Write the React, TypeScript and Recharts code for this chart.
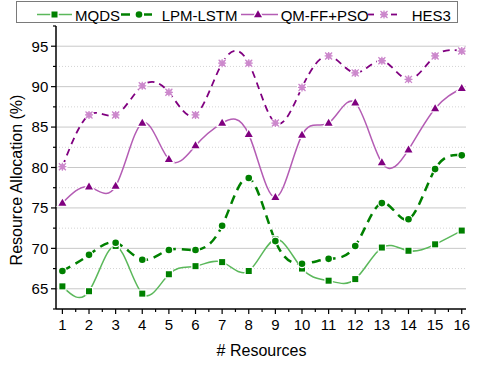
import React from 'react';
import { LineChart, Line, XAxis, YAxis, CartesianGrid, Label } from 'recharts';

const resources = [1, 2, 3, 4, 5, 6, 7, 8, 9, 10, 11, 12, 13, 14, 15, 16];
const mqds = [65.3, 64.7, 70.3, 64.4, 66.8, 67.8, 68.3, 67.2, 71.1, 67.5, 66.0, 66.2, 70.1, 69.7, 70.5, 72.2];
const lpmLstm = [67.2, 69.2, 70.7, 68.6, 69.8, 69.8, 72.8, 78.7, 70.9, 68.1, 68.7, 70.3, 75.6, 73.6, 79.8, 81.5];
const qmFfPso = [75.6, 77.6, 77.7, 85.5, 81.0, 82.7, 85.5, 84.1, 76.3, 84.0, 85.5, 88.0, 80.6, 82.2, 87.3, 89.8];
const hes3 = [80.1, 86.5, 86.5, 90.1, 89.3, 86.5, 92.9, 92.9, 85.5, 89.9, 93.8, 91.7, 93.2, 90.9, 93.8, 94.4];

const yMajor = [65, 70, 75, 80, 85, 90, 95];
const yMinor = [62.5, 67.5, 72.5, 77.5, 82.5, 87.5, 92.5, 97.5];
const seriesNames = ['MQDS', 'LPM-LSTM', 'QM-FF+PSO', 'HES3'];

const data = resources.map((r, i) => ({
  r,
  mqds: mqds[i],
  lpm: lpmLstm[i],
  qm: qmFfPso[i],
  hes: hes3[i],
}));

const xTicks = resources.flatMap((r) => (r < 16 ? [r, r + 0.5] : [r]));
const yTicks = [...yMajor, ...yMinor].sort((a, b) => a - b);

const FONT = '"Liberation Sans", Arial, sans-serif';
const GREEN = '#008000';
const LIGHT_GREEN = '#5BB85B';
const PURPLE = '#800080';
const LIGHT_PURPLE = '#B45CB4';
const PINK = '#CC88CC';

function Square({ cx, cy }: { cx: number; cy: number }) {
  return <rect x={cx - 3} y={cy - 3} width={6} height={6} fill={GREEN} stroke="#fff" strokeWidth={2.5} paintOrder="stroke" />;
}

function Dot({ cx, cy }: { cx: number; cy: number }) {
  return <circle cx={cx} cy={cy} r={3.3} fill={GREEN} stroke="#fff" strokeWidth={2.5} paintOrder="stroke" />;
}

function Tri({ cx, cy }: { cx: number; cy: number }) {
  return (
    <polygon
      points={`${cx},${cy - 4.3} ${cx + 4},${cy + 2.7} ${cx - 4},${cy + 2.7}`}
      fill={PURPLE}
      stroke="#fff"
      strokeWidth={2.5}
      paintOrder="stroke"
    />
  );
}

function Star({ cx, cy }: { cx: number; cy: number }) {
  const s = 3.5;
  return (
    <g>
      <circle cx={cx} cy={cy} r={5.2} fill="#fff" />
      <path
        d={`M${cx - s},${cy - s}L${cx + s},${cy + s}M${cx + s},${cy - s}L${cx - s},${cy + s}M${cx},${cy - 4}L${cx},${cy + 4}M${cx - 4},${cy}L${cx + 4},${cy}`}
        stroke={PINK}
        strokeWidth={1.3}
        fill="none"
      />
      <rect x={cx - 2.2} y={cy - 2.2} width={4.4} height={4.4} fill="none" stroke={PINK} strokeWidth={0.8} />
    </g>
  );
}

const markers = [Square, Dot, Tri, Star];

function marker(kind: number) {
  const M = markers[kind];
  return (p: any) => {
    if (p.cx == null || p.cy == null) return <g key={`m${kind}-${p.index}`} />;
    return <M key={`m${kind}-${p.index}`} cx={p.cx} cy={p.cy} />;
  };
}

function XTick({ x, y, payload }: any) {
  const major = Number.isInteger(payload.value);
  return (
    <g>
      <line x1={x} x2={x} y1={y} y2={y + (major ? 5 : 3)} stroke="#000" strokeWidth={1.2} />
      {major && (
        <text x={x} y={y + 21.4} textAnchor="middle" fontSize={15} fontFamily={FONT} fill="#000">
          {payload.value}
        </text>
      )}
    </g>
  );
}

function YTick({ x, y, payload }: any) {
  const major = payload.value % 5 === 0;
  return (
    <g>
      <line x1={x - (major ? 5 : 3)} x2={x} y1={y} y2={y} stroke="#000" strokeWidth={1.2} />
      {major && (
        <text x={x - 7.7} y={y} dy="0.36em" textAnchor="end" fontSize={15} fontFamily={FONT} fill="#000">
          {payload.value}
        </text>
      )}
    </g>
  );
}

function ChartLegend() {
  const ty = 20.7;
  const ly = 14.5;
  return (
    <svg width={480} height={26} style={{ position: 'absolute', left: 0, top: 0 }}>
      <rect x={16.5} y={1.5} width={441} height={21} fill="#fff" stroke="#7a7a7a" strokeWidth={1} />
      <line x1={37} x2={72} y1={ly} y2={ly} stroke={LIGHT_GREEN} strokeWidth={1.5} />
      <Square cx={54.5} cy={ly} />
      <text x={75} y={ty} fontSize={15} fontFamily={FONT}>{seriesNames[0]}</text>
      <line x1={121} x2={130} y1={ly} y2={ly} stroke={GREEN} strokeWidth={2.5} />
      <line x1={144} x2={152} y1={ly} y2={ly} stroke={GREEN} strokeWidth={2.5} />
      <Dot cx={139} cy={ly} />
      <text x={161.7} y={ty} fontSize={15} fontFamily={FONT}>{seriesNames[1]}</text>
      <line x1={241} x2={278} y1={ly} y2={ly} stroke={LIGHT_PURPLE} strokeWidth={1.5} />
      <Tri cx={258} cy={ly} />
      <text x={280.7} y={ty} fontSize={15} fontFamily={FONT}>{seriesNames[2]}</text>
      <line x1={368} x2={374} y1={ly} y2={ly} stroke={PURPLE} strokeWidth={1.8} />
      <line x1={391} x2={397} y1={ly} y2={ly} stroke={PURPLE} strokeWidth={1.8} />
      <Star cx={384} cy={ly} />
      <text x={411.7} y={ty} fontSize={15} fontFamily={FONT}>{seriesNames[3]}</text>
    </svg>
  );
}

export default function App() {
  return (
    <div style={{ position: 'absolute', left: 0, top: 0, width: 480, height: 371, background: '#fff', fontFamily: FONT }}>
      <LineChart width={480} height={371} data={data} margin={{ top: 26, right: 14, bottom: 0, left: 0 }}>
        <CartesianGrid horizontal vertical={false} horizontalValues={yMajor} stroke="#c8c8c8" strokeWidth={1} />
        <CartesianGrid
          horizontal
          vertical={false}
          horizontalValues={yMinor.filter((v) => v > 63 && v < 97)}
          stroke="#d4d4d4"
          strokeDasharray="1 2"
          strokeWidth={1}
        />
        <XAxis
          dataKey="r"
          type="number"
          domain={[0.76, 16.16]}
          ticks={xTicks}
          interval={0}
          tickLine={false}
          tickSize={0}
          tickMargin={0}
          height={62}
          axisLine={{ stroke: '#000', strokeWidth: 1.5 }}
          tick={<XTick />}
        >
          <Label
            content={() => (
              <text x={261.5} y={356} textAnchor="middle" fontSize={16} fontFamily={FONT} fill="#000">
                # Resources
              </text>
            )}
          />
        </XAxis>
        <YAxis
          type="number"
          domain={[62.5, 97.5]}
          ticks={yTicks}
          interval={0}
          width={56}
          tickLine={false}
          tickSize={0}
          tickMargin={0}
          axisLine={{ stroke: '#000', strokeWidth: 1.5 }}
          tick={<YTick />}
        >
          <Label
            content={() => (
              <text transform="translate(22,180) rotate(-90)" textAnchor="middle" fontSize={16} fontFamily={FONT} fill="#000">
                Resource Allocation (%)
              </text>
            )}
          />
        </YAxis>
        <Line dataKey="mqds" name={seriesNames[0]} type="natural" stroke={LIGHT_GREEN} strokeWidth={1.5} dot={marker(0)} isAnimationActive={false} />
        <Line dataKey="lpm" name={seriesNames[1]} type="natural" stroke={GREEN} strokeWidth={2.5} strokeDasharray="9 6" dot={marker(1)} isAnimationActive={false} />
        <Line dataKey="qm" name={seriesNames[2]} type="natural" stroke={LIGHT_PURPLE} strokeWidth={1.5} dot={marker(2)} isAnimationActive={false} />
        <Line dataKey="hes" name={seriesNames[3]} type="natural" stroke={PURPLE} strokeWidth={1.8} strokeDasharray="7 5" dot={marker(3)} isAnimationActive={false} />
      </LineChart>
      <ChartLegend />
    </div>
  );
}
